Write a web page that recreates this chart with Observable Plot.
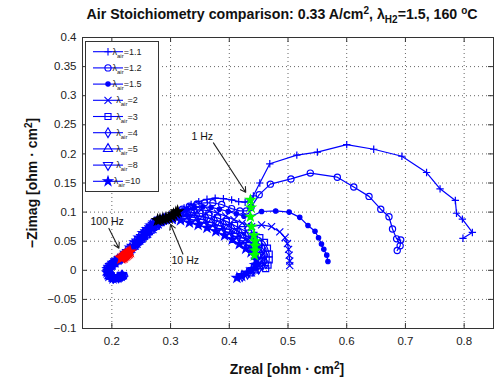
<!DOCTYPE html>
<html><head><meta charset="utf-8">
<script src="https://cdn.jsdelivr.net/npm/d3@7"></script>
<script src="https://cdn.jsdelivr.net/npm/@observablehq/plot@0.6"></script>
<style>body{margin:0;background:#fff;font-family:"Liberation Sans",Arial,sans-serif}</style>
</head><body><div id="chart"></div><script>
// Series labels (lambda_air)
const labels = ["1.1","1.2","1.5","2","3","4","5","8","10"];
const xTicks = [0.2,0.3,0.4,0.5,0.6,0.7,0.8];
const yTicks = [-0.1,-0.05,0,0.05,0.1,0.15,0.2,0.25,0.3,0.35,0.4];

// [Zreal, -Zimag, frequency tag]
const s11 = [[0.222,-0.010],[0.216,-0.013],[0.207,-0.014],[0.200,-0.010],[0.197,-0.004],[0.198,0.002],[0.202,0.009],[0.208,0.015],[0.215,0.021],[0.223,0.027],[0.231,0.032,"100"],[0.240,0.041],[0.249,0.050],[0.258,0.059],[0.267,0.068],[0.277,0.077],[0.287,0.085],[0.296,0.091],[0.304,0.096],[0.312,0.101,"10"],[0.323,0.107],[0.335,0.113],[0.348,0.118],[0.362,0.122],[0.376,0.124],[0.390,0.123],[0.404,0.121],[0.416,0.118],[0.427,0.117],[0.436,0.121,"1"],[0.441,0.128],[0.452,0.150],[0.469,0.183],[0.515,0.198],[0.550,0.203],[0.600,0.216],[0.646,0.208],[0.694,0.196],[0.736,0.168],[0.759,0.140],[0.785,0.120],[0.787,0.098],[0.797,0.088],[0.814,0.065],[0.798,0.055]];
const s12 = [[0.221,-0.009],[0.215,-0.012],[0.206,-0.013],[0.199,-0.009],[0.196,-0.003],[0.197,0.003],[0.201,0.009],[0.207,0.015],[0.214,0.020],[0.221,0.025],[0.229,0.030,"100"],[0.238,0.039],[0.247,0.048],[0.256,0.057],[0.265,0.066],[0.275,0.075],[0.284,0.083],[0.293,0.089],[0.301,0.094],[0.309,0.099,"10"],[0.320,0.105],[0.332,0.110],[0.345,0.114],[0.358,0.116],[0.372,0.116],[0.387,0.113],[0.404,0.106],[0.418,0.102],[0.429,0.102],[0.437,0.108,"1"],[0.451,0.130],[0.470,0.148],[0.505,0.157],[0.538,0.167],[0.584,0.160],[0.612,0.143],[0.638,0.127],[0.658,0.105],[0.672,0.092],[0.678,0.071],[0.685,0.054],[0.692,0.052],[0.691,0.042],[0.686,0.034]];
const s15 = [[0.220,-0.010],[0.214,-0.013],[0.205,-0.014],[0.198,-0.010],[0.195,-0.004],[0.196,0.002],[0.200,0.008],[0.206,0.014],[0.213,0.019],[0.220,0.024],[0.227,0.029,"100"],[0.236,0.038],[0.245,0.047],[0.254,0.056],[0.263,0.064],[0.272,0.072],[0.281,0.080],[0.290,0.086],[0.298,0.091],[0.305,0.096,"10"],[0.316,0.101],[0.328,0.105],[0.341,0.108],[0.355,0.109],[0.369,0.108],[0.383,0.105],[0.398,0.101],[0.412,0.097],[0.425,0.093],[0.436,0.092,"1"],[0.455,0.101],[0.479,0.102],[0.502,0.100],[0.520,0.091],[0.534,0.077],[0.546,0.067],[0.552,0.056],[0.557,0.045],[0.561,0.036],[0.566,0.026],[0.568,0.015]];
const s2 = [[0.219,-0.009],[0.213,-0.012],[0.204,-0.013],[0.198,-0.009],[0.195,-0.003],[0.196,0.003],[0.200,0.008],[0.205,0.013],[0.212,0.018],[0.219,0.023],[0.225,0.027,"100"],[0.234,0.036],[0.243,0.045],[0.252,0.054],[0.261,0.062],[0.270,0.070],[0.279,0.078],[0.287,0.084],[0.295,0.089],[0.302,0.093,"10"],[0.313,0.098],[0.325,0.102],[0.338,0.104],[0.352,0.104],[0.366,0.102],[0.380,0.098],[0.394,0.093],[0.408,0.087],[0.422,0.081],[0.431,0.077],[0.438,0.075,"1"],[0.455,0.078],[0.472,0.075],[0.486,0.066],[0.495,0.056],[0.499,0.046],[0.501,0.036],[0.502,0.026],[0.503,0.016],[0.503,0.008]];
const s3 = [[0.218,-0.010],[0.212,-0.013],[0.204,-0.014],[0.197,-0.010],[0.194,-0.004],[0.195,0.002],[0.199,0.008],[0.204,0.013],[0.210,0.017],[0.217,0.022],[0.223,0.026,"100"],[0.232,0.035],[0.241,0.044],[0.250,0.053],[0.259,0.061],[0.267,0.069],[0.276,0.076],[0.284,0.082],[0.291,0.087],[0.297,0.090,"10"],[0.308,0.095],[0.321,0.098],[0.335,0.099],[0.350,0.098],[0.365,0.095],[0.380,0.090],[0.395,0.084],[0.409,0.077],[0.422,0.070],[0.433,0.064],[0.442,0.060,"1"],[0.452,0.056],[0.460,0.048],[0.465,0.038],[0.468,0.028],[0.468,0.018],[0.466,0.009],[0.462,0.003]];
const s4 = [[0.218,-0.009],[0.212,-0.012],[0.203,-0.013],[0.197,-0.009],[0.194,-0.003],[0.195,0.003],[0.198,0.008],[0.203,0.012],[0.209,0.017],[0.215,0.021],[0.221,0.025,"100"],[0.230,0.034],[0.239,0.043],[0.248,0.052],[0.256,0.060],[0.264,0.068],[0.272,0.075],[0.279,0.081],[0.286,0.086],[0.292,0.089,"10"],[0.303,0.093],[0.316,0.095],[0.330,0.096],[0.345,0.094],[0.360,0.091],[0.375,0.086],[0.390,0.080],[0.404,0.073],[0.417,0.066],[0.429,0.059],[0.438,0.053],[0.444,0.050,"1"],[0.452,0.045],[0.458,0.036],[0.461,0.026],[0.460,0.016],[0.456,0.008],[0.450,0.002]];
const s5 = [[0.217,-0.010],[0.211,-0.013],[0.203,-0.014],[0.196,-0.010],[0.193,-0.004],[0.194,0.002],[0.197,0.007],[0.202,0.011],[0.208,0.016],[0.214,0.020],[0.220,0.023,"100"],[0.228,0.032],[0.237,0.041],[0.245,0.050],[0.253,0.058],[0.261,0.066],[0.268,0.073],[0.275,0.079],[0.281,0.084],[0.287,0.088,"10"],[0.298,0.091],[0.311,0.093],[0.325,0.093],[0.340,0.091],[0.355,0.087],[0.370,0.082],[0.385,0.076],[0.399,0.070],[0.412,0.063],[0.424,0.055],[0.435,0.048],[0.444,0.042,"1"],[0.450,0.035],[0.454,0.026],[0.454,0.016],[0.450,0.007],[0.443,0.000],[0.435,-0.005]];
const s8 = [[0.217,-0.009],[0.211,-0.012],[0.202,-0.013],[0.196,-0.009],[0.193,-0.003],[0.194,0.003],[0.197,0.007],[0.201,0.011],[0.206,0.015],[0.212,0.019],[0.218,0.022,"100"],[0.226,0.031],[0.234,0.040],[0.242,0.049],[0.250,0.057],[0.257,0.065],[0.264,0.072],[0.270,0.078],[0.276,0.083],[0.282,0.087,"10"],[0.294,0.090],[0.307,0.091],[0.321,0.090],[0.336,0.087],[0.351,0.083],[0.366,0.078],[0.381,0.072],[0.395,0.066],[0.408,0.059],[0.420,0.051],[0.431,0.043],[0.439,0.038],[0.444,0.034,"1"],[0.449,0.026],[0.450,0.017],[0.447,0.008],[0.440,0.000],[0.431,-0.006],[0.422,-0.010]];
const s10 = [[0.216,-0.010],[0.210,-0.013],[0.202,-0.014],[0.195,-0.010],[0.192,-0.004],[0.193,0.002],[0.196,0.006],[0.200,0.010],[0.205,0.014],[0.210,0.018],[0.216,0.021,"100"],[0.223,0.030],[0.231,0.039],[0.239,0.048],[0.246,0.056],[0.253,0.064],[0.260,0.071],[0.266,0.077],[0.272,0.082],[0.278,0.086,"10"],[0.290,0.088],[0.303,0.088],[0.317,0.086],[0.332,0.082],[0.347,0.078],[0.362,0.073],[0.377,0.067],[0.392,0.060],[0.405,0.053],[0.417,0.045],[0.428,0.037],[0.437,0.031],[0.443,0.026,"1"],[0.446,0.018],[0.444,0.009],[0.438,0.001],[0.430,-0.005],[0.421,-0.010],[0.413,-0.013]];

// annotations
const annText = ["1 Hz","100 Hz","10 Hz"];
const annX = [0.354,0.192,0.325];
const annY = [0.230,0.084,0.017];
const arrX1 = [0.373,0.195,0.321];
const arrY1 = [0.219,0.072,0.028];
const arrX2 = [0.428,0.212,0.300];
const arrY2 = [0.134,0.038,0.079];

const seriesData = [s11,s12,s15,s2,s3,s4,s5,s8,s10];
const blue = "#0000ff";
const sqrt3 = Math.sqrt(3);
const triDown = {draw(ctx,size){const y=-Math.sqrt(size/(sqrt3*3));ctx.moveTo(0,-y*2);ctx.lineTo(-sqrt3*y,y);ctx.lineTo(sqrt3*y,y);ctx.closePath();}};
const syms = [d3.symbolPlus,d3.symbolCircle,d3.symbolCircle,d3.symbolTimes,d3.symbolSquare,d3.symbolDiamond,d3.symbolTriangle,triDown,d3.symbolStar];
const fills = ["none","none",blue,"none","none","none","none","none",blue];
const radii = [2.5,3.1,2.2,3.3,3.4,3.0,3.4,3.4,2.9];

const rows = [];
seriesData.forEach((arr,i)=>arr.forEach(p=>rows.push({s:labels[i],i,x:p[0],y:p[1],f:p[2]||null})));

const W=499,H=390,mt=37,mr=6,mb=62,ml=82;
const fmt = d => d===0?"0":(d<0?"\u2212":"")+String(+Math.abs(d).toFixed(2));

const marks = [
  Plot.gridX(xTicks,{stroke:"#666",strokeOpacity:1,strokeDasharray:"1,3"}),
  Plot.gridY(yTicks,{stroke:"#666",strokeOpacity:1,strokeDasharray:"1,3"}),
  Plot.line(rows,{x:"x",y:"y",z:"s",stroke:blue,strokeWidth:1.2})
];
labels.forEach((lab,i)=>{
  marks.push(Plot.dot(rows.filter(r=>r.i===i),{x:"x",y:"y",symbol:syms[i],r:radii[i],stroke:blue,fill:fills[i],strokeWidth:1.2}));
});
marks.push(
  Plot.dot(rows.filter(r=>r.f==="100"),{x:"x",y:"y",symbol:d3.symbolStar,r:3.0,fill:"#ff0000",stroke:"#ff0000",strokeWidth:1.5}),
  Plot.dot(rows.filter(r=>r.f==="10"),{x:"x",y:"y",symbol:d3.symbolStar,r:3.0,fill:"#000",stroke:"#000",strokeWidth:1.5}),
  Plot.dot(rows.filter(r=>r.f==="1"),{x:"x",y:"y",symbol:d3.symbolStar,r:2.8,fill:"#00ff00",stroke:"#00ff00",strokeWidth:1.2}),
  Plot.arrow(annText.map((t,k)=>k),{x1:k=>arrX1[k],y1:k=>arrY1[k],x2:k=>arrX2[k],y2:k=>arrY2[k],stroke:"#222",strokeWidth:1.1,headLength:8}),
  Plot.text(annText,{x:(d,k)=>annX[k],y:(d,k)=>annY[k],text:d=>d,fontSize:10.5,fill:"#111"}),
  Plot.tickX(xTicks,{x:d=>d,insetTop:H-mt-mb-5,stroke:"#333"}),
  Plot.tickX(xTicks,{x:d=>d,insetBottom:H-mt-mb-5,stroke:"#333"}),
  Plot.tickY(yTicks,{y:d=>d,insetLeft:W-ml-mr-5,stroke:"#333"}),
  Plot.tickY(yTicks,{y:d=>d,insetRight:W-ml-mr-5,stroke:"#333"}),
  Plot.frame({stroke:"#333"}),
  Plot.axisX(xTicks,{anchor:"bottom",tickSize:0,tickPadding:8,label:null,tickFormat:fmt,fontSize:11.5,fill:"#222"}),
  Plot.axisY(yTicks,{anchor:"left",tickSize:0,tickPadding:6,label:null,tickFormat:fmt,fontSize:11.5,fill:"#222"})
);

const plot = Plot.plot({
  width:W,height:H,marginTop:mt,marginRight:mr,marginBottom:mb,marginLeft:ml,
  x:{domain:[0.15,0.85]},y:{domain:[-0.1,0.4]},
  style:{fontFamily:"'Liberation Sans',Arial,sans-serif",background:"#fff"},
  marks
});
document.getElementById("chart").appendChild(plot);

const svg = d3.select(plot);
// title
const t = svg.append("text").attr("x",282).attr("y",19).attr("text-anchor","middle")
  .attr("font-size",14.2).attr("font-weight","bold").attr("fill","#111");
t.append("tspan").text("Air Stoichiometry comparison: 0.33 A/cm");
t.append("tspan").attr("dy",-5).attr("font-size",10).text("2");
t.append("tspan").attr("dy",5).text(", \u03bb");
t.append("tspan").attr("dy",4).attr("font-size",10).text("H2");
t.append("tspan").attr("dy",-4).text("=1.5, 160 ");
t.append("tspan").attr("dy",-5).attr("font-size",10).text("o");
t.append("tspan").attr("dy",5).text("C");
// x label
const xl = svg.append("text").attr("x",287).attr("y",374).attr("text-anchor","middle")
  .attr("font-size",14).attr("font-weight","bold").attr("fill","#111");
xl.append("tspan").text("Zreal [ohm \u00b7 cm");
xl.append("tspan").attr("dy",-5).attr("font-size",10).text("2");
xl.append("tspan").attr("dy",5).text("]");
// y label
const yl = svg.append("text").attr("transform","translate(37,183) rotate(-90)").attr("text-anchor","middle")
  .attr("font-size",14).attr("font-weight","bold").attr("fill","#111");
yl.append("tspan").text("\u2212Zimag [ohm \u00b7 cm");
yl.append("tspan").attr("dy",-5).attr("font-size",10).text("2");
yl.append("tspan").attr("dy",5).text("]");
// legend
const lg = svg.append("g");
lg.append("rect").attr("x",85.5).attr("y",41.5).attr("width",73).attr("height",150).attr("fill","#fff").attr("stroke","#333");
labels.forEach((lab,i)=>{
  const y = 51.7 + i*16.2;
  lg.append("line").attr("x1",93).attr("x2",123).attr("y1",y).attr("y2",y).attr("stroke",blue).attr("stroke-width",1.1);
  lg.append("path").attr("d",d3.symbol(syms[i],Math.PI*radii[i]*radii[i])()).attr("transform",`translate(108,${y})`)
    .attr("stroke",blue).attr("fill",fills[i]).attr("stroke-width",1.1);
  const tx = lg.append("text").attr("x",127).attr("y",y+3).attr("font-size",9).attr("fill","#222");
  tx.append("tspan").text("\u03bb");
  tx.append("tspan").attr("dy",3).attr("font-size",6).text("air");
  tx.append("tspan").attr("dy",-3).text("="+lab);
});
</script></body></html>
